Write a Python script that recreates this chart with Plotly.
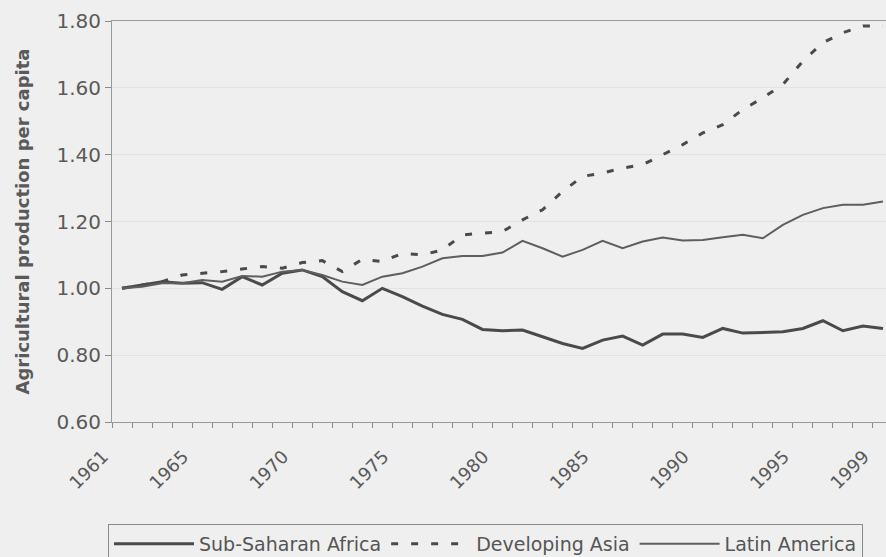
import plotly.graph_objects as go

years = list(range(1961, 2000))

ssa = [1.00, 1.01, 1.02, 1.015, 1.017, 0.997, 1.035, 1.01, 1.045, 1.055,
       1.035, 0.99, 0.963, 1.00, 0.975, 0.947, 0.922, 0.907, 0.877, 0.873,
       0.875, 0.855, 0.835, 0.82, 0.845, 0.857, 0.83, 0.863, 0.863, 0.853,
       0.88, 0.866, 0.867, 0.87, 0.88, 0.903, 0.873, 0.887, 0.88]

asia = [1.00, 1.01, 1.02, 1.04, 1.045, 1.05, 1.058, 1.065, 1.06, 1.077,
        1.083, 1.05, 1.087, 1.08, 1.105, 1.10, 1.115, 1.16, 1.165, 1.17,
        1.205, 1.235, 1.29, 1.335, 1.345, 1.36, 1.37, 1.40, 1.43, 1.465,
        1.49, 1.535, 1.57, 1.61, 1.68, 1.735, 1.765, 1.785, 1.785]

latam = [1.00, 1.005, 1.015, 1.015, 1.025, 1.02, 1.037, 1.035, 1.05, 1.055,
         1.04, 1.02, 1.01, 1.035, 1.045, 1.065, 1.09, 1.097, 1.097, 1.107,
         1.142, 1.12, 1.095, 1.115, 1.142, 1.12, 1.14, 1.152, 1.143, 1.145,
         1.153, 1.16, 1.15, 1.19, 1.22, 1.24, 1.25, 1.25, 1.26]

y_ticks = [0.60, 0.80, 1.00, 1.20, 1.40, 1.60, 1.80]
x_label_years = [1961, 1965, 1970, 1975, 1980, 1985, 1990, 1995, 1999]

names = ["Sub-Saharan Africa", "Developing Asia", "Latin America"]

fig = go.Figure()
fig.add_trace(go.Scatter(x=years, y=ssa, mode="lines", name=names[0],
                         line=dict(color="#4a4a4a", width=3)))
fig.add_trace(go.Scatter(x=years, y=asia, mode="lines", name=names[1],
                         line=dict(color="#4a4a4a", width=3, dash="7px,13px")))
fig.add_trace(go.Scatter(x=years, y=latam, mode="lines", name=names[2],
                         line=dict(color="#5e5e5e", width=2)))

fig.update_layout(
    width=886, height=557,
    margin=dict(l=112, r=0, t=21, b=135, autoexpand=False),
    paper_bgcolor="#efefef", plot_bgcolor="#efefef",
    font=dict(family="DejaVu Sans", color="#5a5a5a"),
    showlegend=True,
    legend=dict(orientation="h", xref="container", yref="container",
                x=108 / 886, y=1 - 524 / 557, xanchor="left", yanchor="top",
                bordercolor="#8a8a8a", borderwidth=1, bgcolor="rgba(0,0,0,0)",
                font=dict(size=19, color="#555555"), itemwidth=80),
)

fig.update_xaxes(
    automargin=False,
    range=[1960.5, 1999.15],
    tickmode="array",
    tickvals=x_label_years,
    ticktext=[str(y) for y in x_label_years],
    ticklabelshift=-19, ticklabelstandoff=16,
    tickangle=-45, ticks="", showgrid=False, zeroline=False,
    showline=True, linecolor="#9a9a9a", linewidth=1, mirror=True,
    tickfont=dict(size=18, color="#5a5a5a"),
    minor=dict(tickmode="array", tickvals=[y - 0.5 for y in years],
               ticks="outside", ticklen=5, tickcolor="#8a8a8a", showgrid=False),
)

fig.update_yaxes(
    automargin=False,
    range=[0.6, 1.8],
    tickmode="array", tickvals=y_ticks,
    ticktext=[f"{v:.2f}" for v in y_ticks],
    ticks="outside", ticklen=6, tickcolor="#8a8a8a",
    showline=True, linecolor="#9a9a9a", linewidth=1,
    showgrid=True, gridcolor="#e2e2e2", zeroline=False,
    tickfont=dict(size=20, color="#5a5a5a"),
    title=dict(text="Agricultural production per capita",
               font=dict(size=18, color="#5a5a5a", weight="bold"), standoff=22),
)

fig.write_html(
    "out.html",
    config={"displayModeBar": False},
    post_script="document.body.style.margin='0';"
                "document.body.style.background='#efefef';",
)
